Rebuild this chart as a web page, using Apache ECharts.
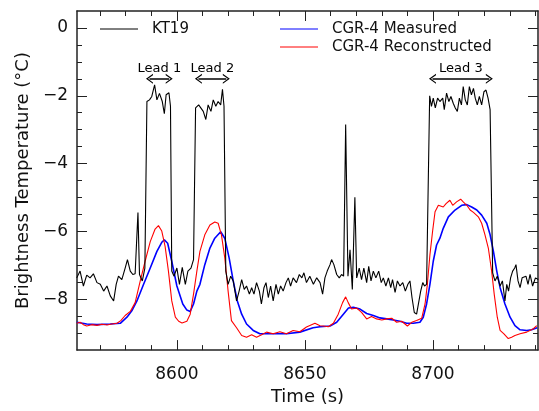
<!DOCTYPE html>
<html>
<head>
<meta charset="utf-8">
<script src="https://cdn.jsdelivr.net/npm/echarts@6/dist/echarts.min.js"></script>
<style>
  html, body { margin: 0; padding: 0; background: #fff; }
  #chart { width: 539px; height: 411px; }
</style>
</head>
<body>
<div id="chart"></div>
<script>
// KT19 radiometer (black)
const kt19Time = [
  8560.9, 8562.2, 8563.5, 8564.8, 8566.1, 8567.4, 8568.8, 8570.1, 8571.4, 8572.7,
  8574.0, 8575.3, 8576.3, 8577.2, 8578.5, 8579.8, 8580.7, 8581.8, 8582.8, 8583.7,
  8584.8, 8585.4, 8586.5, 8587.5, 8588.3, 8589.3, 8590.2, 8591.3, 8592.2, 8593.2,
  8594.3, 8595.1, 8595.8, 8596.9, 8597.5, 8598.0, 8598.9, 8600.0, 8601.0, 8602.1,
  8603.3, 8604.3, 8605.5, 8606.5, 8607.3, 8608.5,
  8609.0, 8610.3, 8611.3, 8612.2, 8613.3, 8614.2, 8615.2, 8616.1, 8617.1, 8617.8,
  8618.4, 8619.1, 8620.0, 8621.0, 8622.0, 8623.3, 8624.3, 8625.3, 8626.3, 8627.2,
  8628.3, 8629.2, 8630.1, 8631.1, 8632.2, 8633.0, 8634.0, 8634.8, 8635.7, 8636.6,
  8637.6, 8638.7, 8639.6, 8640.5, 8641.5, 8642.6, 8643.5, 8644.4, 8645.4, 8646.7,
  8647.8, 8648.8, 8649.6, 8650.6, 8651.9, 8653.3, 8654.6, 8655.9,
  8656.9, 8657.8, 8658.7, 8659.8, 8660.4, 8661.3, 8662.4, 8663.4, 8664.3, 8665.1,
  8665.9, 8666.8, 8667.6, 8668.5, 8669.5, 8670.2, 8671.2, 8672.1, 8673.0, 8674.1,
  8674.9, 8675.8, 8676.7, 8677.7, 8678.8, 8679.8, 8680.6, 8681.6, 8682.6, 8683.5,
  8684.2, 8685.2, 8686.1, 8687.1, 8688.2, 8689.2, 8690.2, 8691.0, 8691.8, 8692.7,
  8693.6, 8694.4, 8695.2, 8696.0, 8696.7, 8697.5, 8698.7, 8699.4, 8700.1, 8700.9,
  8701.8, 8702.7, 8703.8, 8704.4, 8705.3, 8706.2, 8707.0, 8707.9, 8708.7, 8709.5,
  8710.3, 8711.1, 8711.8, 8712.6, 8713.4, 8714.2, 8715.0, 8715.8, 8716.5, 8717.3,
  8718.1, 8719.0, 8719.9, 8720.7, 8721.5, 8722.3, 8722.9, 8723.3, 8724.2, 8725.1,
  8726.2, 8727.1, 8728.1, 8728.8, 8729.5, 8730.3, 8731.1, 8731.9, 8732.4, 8733.2,
  8734.0, 8734.8, 8735.5, 8736.3, 8737.1, 8737.9, 8738.9, 8740.0, 8741.1
];
const kt19Temp = [
  -7.37, -7.17, -7.61, -7.29, -7.37, -7.25, -7.51, -7.56, -7.76, -7.61,
  -7.90, -8.05, -7.56, -7.32, -7.42, -7.08, -6.83, -7.17, -7.27, -7.25,
  -5.44, -7.27, -7.46, -7.08, -2.17, -2.12, -2.02, -1.68, -2.12, -1.93,
  -2.17, -2.53, -1.97, -1.91, -2.31, -7.17, -7.32, -7.08, -7.56, -7.06,
  -7.56, -7.17, -7.08, -6.83, -2.36, -2.27,
  -2.31, -2.46, -2.70, -2.27, -2.46, -2.12, -2.31, -2.17, -2.27, -1.81,
  -2.31, -7.17, -7.56, -7.32, -7.46, -8.05, -7.76, -7.42, -7.71, -7.61,
  -7.85, -7.66, -7.85, -7.51, -7.76, -8.14, -7.66, -7.51, -7.95, -7.61,
  -8.05, -7.56, -7.85, -7.61, -7.76, -7.51, -7.37, -7.61, -7.37, -7.51,
  -7.27, -7.37, -7.22, -7.51, -7.32, -7.56, -7.37, -7.51,
  -7.85, -7.37, -7.17, -6.98, -6.83, -6.98, -7.27, -7.37, -7.27, -7.32,
  -2.85, -7.32, -6.54, -7.71, -4.99, -7.37, -7.08, -7.42, -7.08, -7.51,
  -7.03, -7.46, -7.17, -7.37, -7.17, -7.51, -7.37, -7.61, -7.37, -7.66,
  -7.42, -7.80, -7.46, -7.61, -7.51, -7.76, -7.56, -7.46, -7.95, -8.39,
  -8.44, -8.10, -7.76, -7.51, -7.61, -7.56, -2.00, -2.31, -2.07, -2.36,
  -2.07, -2.17, -2.07, -2.41, -1.92, -2.17, -2.02, -2.22, -2.36, -2.46,
  -2.07, -2.27, -1.73, -2.12, -2.27, -1.73, -1.97, -1.78, -2.07, -2.27,
  -2.02, -2.27, -1.88, -1.83, -2.07, -2.41, -2.46, -7.22, -7.46, -7.32,
  -7.61, -7.46, -8.05, -7.56, -7.76, -7.37, -7.17, -7.08, -6.98, -7.46,
  -7.66, -7.37, -7.42, -7.32, -7.56, -7.27, -7.61, -7.37, -7.42
];

// CGR-4 measured (blue)
const measTime = [
  8560.9, 8564.8, 8568.8, 8574.0, 8577.9, 8580.5, 8582.4, 8584.4, 8587.0, 8589.6,
  8592.2, 8594.1, 8595.1, 8596.4, 8598.0, 8600.0, 8602.3, 8603.9, 8605.2, 8606.5,
  8607.8, 8609.0, 8610.9, 8612.9, 8614.8, 8617.1, 8618.7, 8620.4, 8622.0, 8623.6,
  8625.3, 8627.2, 8629.8, 8632.4, 8637.6, 8642.8, 8648.0, 8653.2, 8655.9, 8659.8,
  8662.4, 8665.0, 8667.0, 8668.9, 8671.5, 8674.1, 8676.7, 8679.3, 8681.9, 8684.5,
  8687.1, 8689.7, 8692.3, 8694.9, 8696.2, 8697.5, 8698.8, 8700.1, 8701.4, 8702.7,
  8704.0, 8706.0, 8708.6, 8711.2, 8713.2, 8715.1, 8717.1, 8719.0, 8721.0, 8722.3,
  8723.6, 8724.9, 8726.2, 8728.1, 8730.1, 8732.0, 8734.0, 8736.6, 8738.5, 8740.7
];
const measTemp = [
  -8.68, -8.73, -8.75, -8.73, -8.71, -8.53, -8.34, -8.05, -7.56, -7.08,
  -6.59, -6.32, -6.25, -6.35, -6.88, -7.61, -8.14, -8.32, -8.36, -8.14,
  -7.76, -7.56, -6.98, -6.49, -6.20, -6.01, -6.20, -6.78, -7.46, -8.05,
  -8.44, -8.73, -8.92, -9.02, -9.02, -9.02, -8.97, -8.84, -8.81, -8.79,
  -8.68, -8.44, -8.26, -8.24, -8.29, -8.42, -8.48, -8.55, -8.58, -8.61,
  -8.65, -8.71, -8.71, -8.68, -8.53, -8.14, -7.56, -6.88, -6.40, -6.20,
  -5.91, -5.57, -5.37, -5.23, -5.21, -5.28, -5.37, -5.52, -5.76, -6.10,
  -6.59, -7.17, -7.66, -8.14, -8.53, -8.78, -8.90, -8.92, -8.90, -8.84
];

// CGR-4 reconstructed (red)
const reconTime = [
  8560.9, 8562.2, 8563.5, 8564.8, 8566.8, 8568.8, 8570.7, 8572.7, 8574.6, 8576.6,
  8578.1, 8579.8, 8581.8, 8583.7, 8585.7, 8587.6, 8589.6, 8591.5, 8592.8, 8594.1,
  8595.4, 8596.7, 8598.0, 8599.4, 8600.7, 8602.0, 8603.9, 8605.2, 8606.5, 8607.8,
  8609.0, 8610.9, 8612.9, 8614.8, 8616.1, 8617.4, 8618.7, 8620.0, 8621.3, 8623.3,
  8625.3, 8627.2, 8629.2, 8631.1, 8633.1, 8635.0, 8637.6, 8640.2, 8642.8, 8645.4,
  8648.0, 8650.6, 8653.9, 8655.9, 8657.2, 8659.1, 8661.1, 8663.0, 8664.7, 8665.9,
  8666.9, 8668.2, 8670.2, 8672.1, 8674.1, 8676.0, 8678.0, 8680.0, 8681.9, 8683.9,
  8685.8, 8687.8, 8690.0, 8691.7, 8693.6, 8695.6, 8696.9, 8697.8, 8698.8, 8699.9,
  8700.8, 8702.1, 8702.7, 8704.0, 8705.1, 8706.6, 8707.7, 8709.2, 8710.8, 8711.8,
  8713.2, 8714.5, 8715.8, 8717.7, 8719.0, 8720.3, 8721.6, 8722.9, 8723.9, 8725.1,
  8726.2, 8727.7, 8729.4, 8730.7, 8732.0, 8734.0, 8736.6, 8739.2, 8740.5
];
const reconTemp = [
  -8.71, -8.68, -8.75, -8.79, -8.75, -8.77, -8.74, -8.76, -8.73, -8.71,
  -8.63, -8.48, -8.36, -8.10, -7.46, -6.88, -6.30, -5.93, -5.83, -5.99,
  -6.44, -7.17, -8.05, -8.53, -8.65, -8.70, -8.65, -8.44, -7.85, -7.17,
  -6.59, -6.10, -5.81, -5.72, -5.76, -6.10, -6.78, -7.76, -8.63, -8.84,
  -9.07, -9.12, -9.05, -9.12, -9.05, -8.97, -9.02, -8.96, -9.02, -8.92,
  -8.96, -8.82, -8.71, -8.78, -8.79, -8.81, -8.71, -8.44, -8.10, -7.93,
  -8.10, -8.29, -8.26, -8.39, -8.58, -8.51, -8.58, -8.61, -8.58, -8.56,
  -8.68, -8.65, -8.79, -8.68, -8.63, -8.56, -8.14, -7.56, -6.69, -5.96,
  -5.42, -5.23, -5.18, -5.28, -5.18, -5.08, -5.23, -5.13, -5.05, -5.13,
  -5.23, -5.37, -5.44, -5.57, -5.76, -6.10, -6.49, -7.17, -7.85, -8.53,
  -8.92, -9.02, -9.16, -9.12, -9.07, -9.02, -8.97, -8.87, -8.78
];

// lead annotations
const leadNames = ['Lead 1', 'Lead 2', 'Lead 3'];
const leadStart = [8589.3, 8608.4, 8699.8];
const leadEnd = [8597.0, 8619.3, 8722.0];
const leadLevel = -1.5;

// legend entries
const legendNames = ['KT19', 'CGR-4 Measured', 'CGR-4 Reconstructed'];
const legendColors = ['#000000', '#0000ff', '#ff0000'];

// axis ticks
const xMin = 8561, xMax = 8741;
const yMin = -9.5, yMax = 0.5;
const xMajor = [8600, 8650, 8700];
const xMinor = [8570, 8580, 8590, 8610, 8620, 8630, 8640, 8660, 8670, 8680, 8690, 8710, 8720, 8730, 8740];
const yMajor = [-8, -6, -4, -2, 0];
const yMinor = [-9, -8.5, -7.5, -7, -6.5, -5.5, -5, -4.5, -3.5, -3, -2.5, -1.5, -1, -0.5];

const zip = (a, b) => a.map((v, i) => [v, b[i]]);
const FONT = 'DejaVu Sans';
const chevron = 'path://M5,0 L10,7 L8.6,7 L5,2 L1.4,7 L0,7 Z';

const makeAxis = (pos, values, len, withLabel, withLine) => {
  const isX = pos === 'bottom' || pos === 'top';
  return {
    type: 'value',
    position: pos,
    min: isX ? xMin : yMin,
    max: isX ? xMax : yMax,
    splitLine: { show: false },
    axisLine: { show: withLine, onZero: false, lineStyle: { color: '#222', width: 1.5 } },
    axisTick: { show: true, inside: true, length: len, customValues: values, lineStyle: { color: '#222', width: 1 } },
    axisLabel: withLabel ? {
      show: true,
      customValues: values,
      fontFamily: FONT,
      fontSize: 17,
      color: '#111',
      margin: isX ? 16 : 9,
      formatter: (v) => String(v).replace('-', '\u2212')
    } : { show: false }
  };
};

const xAxes = [
  Object.assign(makeAxis('bottom', xMajor, 10, true, true), {
    name: 'Time (s)', nameLocation: 'middle', nameGap: 36,
    nameTextStyle: { fontFamily: FONT, fontSize: 18, color: '#111' }
  }),
  makeAxis('bottom', xMinor, 5, false, false),
  makeAxis('top', xMajor, 10, false, true),
  makeAxis('top', xMinor, 5, false, false)
];
const yAxes = [
  Object.assign(makeAxis('left', yMajor, 10, true, true), {
    name: 'Brightness Temperature (\u00b0C)', nameLocation: 'middle', nameGap: 39,
    nameTextStyle: { fontFamily: FONT, fontSize: 18, color: '#111' }
  }),
  makeAxis('left', yMinor, 5, false, false),
  makeAxis('right', yMajor, 10, false, true),
  makeAxis('right', yMinor, 5, false, false)
];

// hand-drawn legend: KT19 in its own column, the two CGR-4 entries stacked
const legendSlots = [[100, 29], [280, 29], [280, 47]];
const legendGraphics = [];
legendNames.forEach((name, i) => {
  const [lx, ly] = legendSlots[i];
  legendGraphics.push({
    type: 'line', silent: true,
    shape: { x1: lx, y1: ly, x2: lx + 38, y2: ly },
    style: { stroke: legendColors[i], lineWidth: 1 }
  });
  legendGraphics.push({
    type: 'text', silent: true, x: lx + 52, y: ly,
    style: { text: name, fill: '#111', font: '15px "DejaVu Sans"', textVerticalAlign: 'middle', verticalAlign: 'middle' }
  });
});

const chart = echarts.init(document.getElementById('chart'), null, { renderer: 'canvas' });
chart.setOption({
  animation: false,
  backgroundColor: '#fff',
  grid: { left: 77, right: 1, top: 11, bottom: 59, containLabel: false },
  xAxis: xAxes,
  yAxis: yAxes,
  graphic: legendGraphics,
  series: [
    {
      name: legendNames[1], type: 'line', symbol: 'none',
      data: zip(measTime, measTemp),
      lineStyle: { color: legendColors[1], width: 1.6 }
    },
    {
      name: legendNames[2], type: 'line', symbol: 'none',
      data: zip(reconTime, reconTemp),
      lineStyle: { color: legendColors[2], width: 1.1 }
    },
    {
      name: legendNames[0], type: 'line', symbol: 'none',
      data: zip(kt19Time, kt19Temp),
      lineStyle: { color: legendColors[0], width: 1.1 },
      markLine: {
        silent: true,
        symbol: [chevron, chevron],
        symbolSize: [10, 7],
        lineStyle: { color: '#000', width: 1.5, type: 'solid' },
        label: {
          show: true, position: 'middle', distance: 4,
          fontFamily: FONT, fontSize: 13, color: '#000',
          formatter: (p) => p.name
        },
        data: leadNames.map((n, i) => [
          { name: n, coord: [leadStart[i], leadLevel] },
          { coord: [leadEnd[i], leadLevel] }
        ])
      }
    }
  ]
});
</script>
</body>
</html>
